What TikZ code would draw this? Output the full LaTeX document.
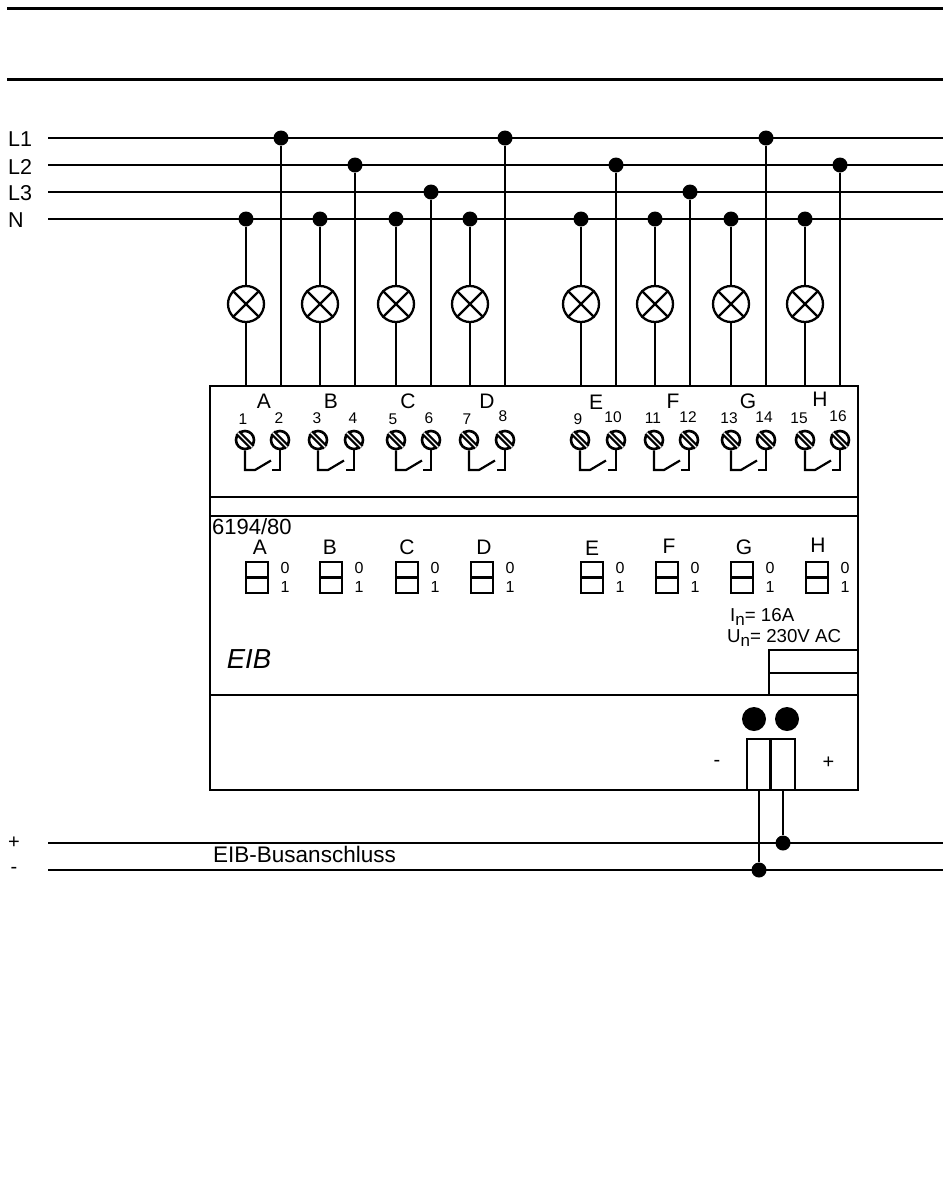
\documentclass[tikz,border=0pt]{standalone}
\usepackage{fontspec}
\setmainfont{Liberation Sans}
\newcommand{\fs}[1]{\fontsize{#1}{#1}\selectfont}
\newcommand{\subn}{\raisebox{-4.5pt}{\fs{17}n}}
\tikzset{
  wire/.style={line width=2.5pt,line cap=butt},
  junction/.style={circle,fill=black,draw=none,minimum size=15pt,inner sep=0pt},
  lamp/.style={circle,draw=black,line width=2.3pt,minimum size=36pt,inner sep=0pt},
  screw/.style={circle,draw=black,line width=2.6pt,minimum size=18pt,inner sep=0pt},
  lbl/.style={inner sep=0pt,font=\fs{21}},
  numlbl/.style={inner sep=0pt,font=\fs{15.5}},
  swlbl/.style={inner sep=0pt,font=\fs{16}},
  ledot/.style={circle,fill=black,draw=none,minimum size=24pt,inner sep=0pt},
}
\begin{document}
\begin{tikzpicture}[x=1pt,y=-1pt]
\useasboundingbox[fill=white] (0,0) rectangle (950,1179);
% header rules
\coordinate (t1a) at (7,8); \coordinate (t1b) at (943,8);
\coordinate (t2a) at (7,79); \coordinate (t2b) at (943,79);
\draw[line width=3pt] (t1a) -- (t1b);
\draw[line width=3pt] (t2a) -- (t2b);
% bus lines
\foreach \n/\y/\t in {L1/138/L1,L2/165/L2,L3/192/L3,N/219/N}{
  \node[anchor=west,inner sep=0pt,font=\fs{21.5}] (lab\n) at (8,\y+1.5) {\t};
  \coordinate (\n a) at (48,\y); \coordinate (\n b) at (943,\y);
  \draw[wire] (\n a) -- (\n b);
}
% device box
\coordinate (boxNW) at (210,386); \coordinate (boxSE) at (858,790);
\draw[wire] (boxNW) rectangle (boxSE);
\foreach \y/\nm in {497/r1,516/r2,695/r3}{
  \coordinate (\nm a) at (210,\y); \coordinate (\nm b) at (858,\y);
  \draw[wire] (\nm a) -- (\nm b);
}
\coordinate (pa) at (769,650); \coordinate (pb) at (858,650);
\coordinate (pc) at (769,695); \coordinate (pd) at (769,673); \coordinate (pe) at (858,673);
\draw[wire] (pb) -- (pa) -- (pc);
\draw[wire] (pd) -- (pe);
% channels
\foreach \c/\lx/\px/\ph/\ta/\tb/\sx in {
  A/246/281/L1/245/280/246, B/320/355/L2/318/354/320,
  C/396/431/L3/396/431/396, D/470/505/L1/469/505/471,
  E/581/616/L2/580/616/581, F/655/690/L3/654/689/656,
  G/731/766/L1/731/766/731, H/805/840/L2/805/840/806}{
  \node[junction] (nj\c) at (\lx,219) {};
  \node[junction] (pj\c) at (\px,\ifnum\pdfstrcmp{\ph}{L1}=0 138\else\ifnum\pdfstrcmp{\ph}{L2}=0 165\else 192\fi\fi) {};
  \node[lamp] (lamp\c) at (\lx,304) {};
  \draw[line width=2.2pt] (lamp\c.45) -- (lamp\c.225) (lamp\c.135) -- (lamp\c.315);
  \coordinate (la\c) at (\lx,386); \coordinate (lb\c) at (\px,386);
  \draw[wire] (nj\c) -- (lamp\c);
  \draw[wire] (lamp\c) -- (la\c);
  \draw[wire] (pj\c) -- (lb\c);
  % terminals
  \node[screw] (ta\c) at (\ta,440) {};
  \node[screw] (tb\c) at (\tb,440) {};
  \foreach \k in {ta,tb}{
    \draw[black,line width=6pt] (\k\c.135) -- (\k\c.315);
    \draw[white,line width=1.3pt] (\k\c.135) -- (\k\c.315);
  }
  % contact
  \coordinate (ca\c) at (\ta,470); \coordinate (cb\c) at (\ta+10,470);
  \coordinate (cc\c) at (\ta+26,460.5); \coordinate (cd\c) at (\tb,470); \coordinate (ce\c) at (\tb-8,470);
  \draw[line width=2.2pt] (ta\c) -- (ca\c) -- (cb\c) -- (cc\c);
  \draw[line width=2.2pt] (tb\c) -- (cd\c) -- (ce\c);
  % switch window
  \coordinate (sa\c) at (\sx,562); \coordinate (sb\c) at (\sx+22,593);
  \coordinate (sc\c) at (\sx,577.5); \coordinate (sd\c) at (\sx+22,577.5);
  \draw[line width=2.2pt] (sa\c) rectangle (sb\c);
  \draw[line width=2.2pt] (sc\c) -- (sd\c);
  \node[swlbl] (zero\c) at (\sx+39,568) {0};
  \node[swlbl] (one\c) at (\sx+39,587) {1};
}
% channel letters, upper row
\foreach \t/\x/\y in {A/264/401,B/331/401,C/408/401,D/487/401,E/596/402,F/673/401,G/748/401,H/820/399}
  \node[lbl] (up\t) at (\x,\y) {\t};
% channel letters, lower row
\foreach \t/\x/\y in {A/260/547,B/330/547,C/407/547,D/484/547,E/592/548,F/669/546,G/744/547,H/818/545}
  \node[lbl] (lo\t) at (\x,\y) {\t};
% terminal numbers
\foreach \t/\x/\y in {1/243/419,2/279/418,3/317/418,4/353/418,5/393/419,6/429/418,7/467/419,8/503/416,
  9/578/419,10/613/417,11/653/418,12/688/417,13/729/418,14/764/417,15/799/418,16/838/416}
  \node[numlbl] (num\t) at (\x,\y) {\t};
\node[anchor=west,inner sep=0pt,font=\fs{22}] (type) at (212,527) {6194/80};
\node[inner sep=0pt,font=\fs{27.5}\itshape] (eib) at (249,659) {EIB};
\node[anchor=west,inner sep=0pt,font=\fs{18.7}] (in) at (730,617) {I\subn{}= 16A};
\node[anchor=west,inner sep=0pt,font=\fs{18.7}] (un) at (727,638) {U\subn{}= 230V AC};
% bus connector
\node[ledot] (led1) at (754,719) {};
\node[ledot] (led2) at (787,719) {};
\coordinate (ba) at (747,739); \coordinate (bb) at (795,790);
\coordinate (bc) at (770.5,739); \coordinate (bd) at (770.5,790);
\draw[wire] (ba) rectangle (bb);
\draw[wire] (bc) -- (bd);
\node[inner sep=0pt,font=\fs{20}] (minus) at (717,763) {-};
\node[inner sep=0pt,font=\fs{20}] (plus) at (828.5,763) {+};
% EIB bus
\coordinate (pl) at (48,843); \coordinate (pr) at (943,843);
\coordinate (ml) at (48,870); \coordinate (mr) at (943,870);
\draw[wire] (pl) -- (pr);
\draw[wire] (ml) -- (mr);
\node[junction] (jm) at (759,870) {};
\node[junction] (jp) at (783,843) {};
\coordinate (wm) at (759,790); \coordinate (wp) at (783,790);
\draw[wire] (wm) -- (jm);
\draw[wire] (wp) -- (jp);
\node[inner sep=0pt,font=\fs{20}] (bplus) at (14,843) {+};
\node[inner sep=0pt,font=\fs{20}] (bminus) at (14,870) {-};
\node[anchor=west,inner sep=0pt,font=\fs{22.5}] (busl) at (213,854.5) {EIB-Busanschluss};
\end{tikzpicture}
\end{document}
